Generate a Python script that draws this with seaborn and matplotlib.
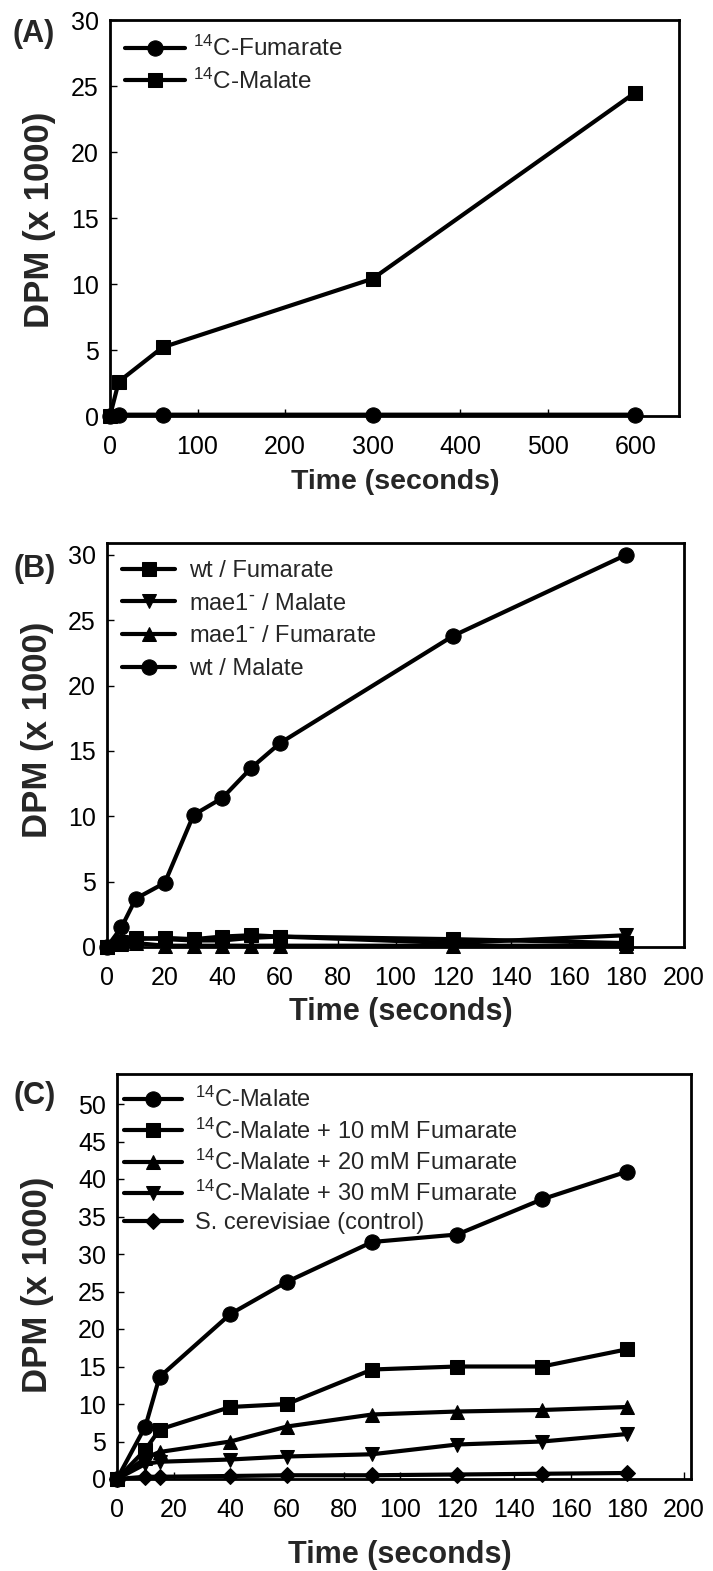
import numpy as np
import pandas as pd
import matplotlib
matplotlib.use("Agg")
import matplotlib.pyplot as plt
import seaborn as sns

# ---------------- data ----------------
# Panel A
a_time = [0, 10, 60, 300, 600]
a_fumarate = [0.0, 0.1, 0.1, 0.1, 0.1]
a_malate = [0.0, 2.6, 5.2, 10.4, 24.5]

# Panel B
b_time = [0, 5, 10, 20, 30, 40, 50, 60, 120, 180]
b_wt_fum = [0.0, 0.3, 0.6, 0.7, 0.6, 0.8, 0.9, 0.8, 0.6, 0.3]
b_mae_mal = [0.0, 0.4, 0.7, 0.6, 0.5, 0.5, 0.7, 0.8, 0.3, 0.9]
b_mae_fum = [0.0, 0.2, 0.3, 0.1, 0.1, 0.1, 0.1, 0.1, 0.1, 0.1]
b_wt_mal = [0.0, 1.5, 3.7, 4.9, 10.1, 11.4, 13.7, 15.6, 23.8, 30.0]

# Panel C
c_time = [0, 10, 15, 40, 60, 90, 120, 150, 180]
c_malate = [0.0, 7.0, 13.6, 22.0, 26.3, 31.6, 32.6, 37.3, 41.0]
c_f10 = [0.0, 3.9, 6.6, 9.6, 10.0, 14.6, 15.0, 15.0, 17.3]
c_f20 = [0.0, 2.8, 3.6, 5.0, 7.0, 8.6, 9.0, 9.2, 9.6]
c_f30 = [0.0, 2.0, 2.3, 2.6, 3.0, 3.3, 4.6, 5.0, 6.0]
c_ctrl = [0.0, 0.3, 0.3, 0.4, 0.5, 0.5, 0.6, 0.7, 0.8]

# ---------------- style ----------------
sns.set_style("white")
plt.rcParams['font.family'] = ['Liberation Sans', 'DejaVu Sans']
plt.rcParams['mathtext.default'] = 'regular'

W, H = 713, 1571
fig = plt.figure(figsize=(W / 100, H / 100), dpi=100)


def frac(l, r, t, b):
    return [l / W, (H - b) / H, (r - l) / W, (b - t) / H]


LW = 3.0
TICK_FS = 18
YLAB_FS = 25
PANEL_FS = 22


def style_axes(ax, box, xlim, ylim, xticks, yticks, ylab_px, xlab_px, xlab_fs):
    l, r, t, b = box
    ax.set_xlim(*xlim)
    ax.set_ylim(*ylim)
    ax.set_xticks(xticks)
    ax.set_yticks(yticks)
    for s in ax.spines.values():
        s.set_visible(True)
        s.set_color('black')
        s.set_linewidth(2.0)
    ax.tick_params(axis='both', direction='in', length=5, width=1,
                   labelsize=TICK_FS, colors='black',
                   bottom=True, left=True, top=False, right=False)
    ax.tick_params(axis='x', pad=14)
    ax.tick_params(axis='y', pad=8)
    ax.set_ylabel("DPM (x 1000)", fontsize=YLAB_FS, fontweight='bold')
    ax.yaxis.label.set_verticalalignment('center')
    ax.yaxis.set_label_coords((ylab_px[0] - l) / (r - l), (b - ylab_px[1]) / (b - t))
    ax.set_xlabel("Time (seconds)", fontsize=xlab_fs, fontweight='bold')
    ax.xaxis.label.set_verticalalignment('center')
    ax.xaxis.set_label_coords((xlab_px[0] - l) / (r - l), (b - xlab_px[1]) / (b - t))


def draw(ax, x, y, marker, label, ms):
    df = pd.DataFrame({"t": x, "v": y})
    sns.lineplot(data=df, x="t", y="v", ax=ax, color='black', lw=LW,
                 marker=marker, markersize=ms, markeredgecolor='black',
                 markerfacecolor='black', label=label, clip_on=False)


def legend(ax, box, first_px, fs, spacing, handlelen, textpad):
    l, r, t, b = box
    leg = ax.legend(loc='upper left', frameon=False, fontsize=fs,
                    handlelength=handlelen, labelspacing=spacing,
                    borderaxespad=0, borderpad=0, handletextpad=textpad,
                    bbox_to_anchor=((first_px[0] - l) / (r - l),
                                    (b - first_px[1]) / (b - t)))
    return leg


# ---------------- Panel A ----------------
boxA = (110, 679, 20, 416)
axA = fig.add_axes(frac(*boxA))
draw(axA, a_time, a_fumarate, 'o', r'$^{14}$C-Fumarate', 11)
draw(axA, a_time, a_malate, 's', r'$^{14}$C-Malate', 9.5)
style_axes(axA, boxA, (0, 650), (0, 30), range(0, 601, 100), range(0, 31, 5),
           (40, 220), (395, 482), 20.5)
legend(axA, boxA, (125, 36), 17.5, 0.3, 2.45, 0.35)
fig.text(34 / W, 1 - 34 / H, "(A)", fontsize=PANEL_FS, fontweight='bold',
         va='center', ha='center')

# ---------------- Panel B ----------------
boxB = (107, 684, 543, 947)
axB = fig.add_axes(frac(*boxB))
draw(axB, b_time, b_wt_fum, 's', 'wt / Fumarate', 9.5)
draw(axB, b_time, b_mae_mal, 'v', r'mae1$^{\text{-}}$ / Malate', 10.5)
draw(axB, b_time, b_mae_fum, '^', r'mae1$^{\text{-}}$ / Fumarate', 10.5)
draw(axB, b_time, b_wt_mal, 'o', 'wt / Malate', 11)
style_axes(axB, boxB, (0, 200), (0, 30.9), range(0, 201, 20), range(0, 31, 5),
           (38, 730), (401, 1012), 22)
legend(axB, boxB, (122, 560), 17, 0.45, 2.25, 0.6)
fig.text(35 / W, 1 - 569 / H, "(B)", fontsize=PANEL_FS, fontweight='bold',
         va='center', ha='center')

# ---------------- Panel C ----------------
boxC = (117, 691, 1074, 1479)
axC = fig.add_axes(frac(*boxC))
draw(axC, c_time, c_malate, 'o', r'$^{14}$C-Malate', 11)
draw(axC, c_time, c_f10, 's', r'$^{14}$C-Malate + 10 mM Fumarate', 9.5)
draw(axC, c_time, c_f20, '^', r'$^{14}$C-Malate + 20 mM Fumarate', 10.5)
draw(axC, c_time, c_f30, 'v', r'$^{14}$C-Malate + 30 mM Fumarate', 10.5)
draw(axC, c_time, c_ctrl, 'D', 'S. cerevisiae (control)', 8)
style_axes(axC, boxC, (0, 202.5), (0, 54), range(0, 201, 20), range(0, 51, 5),
           (38, 1285), (400, 1555), 22)
legend(axC, boxC, (124, 1087), 17, 0.26, 2.45, 0.55)
fig.text(35 / W, 1 - 1096 / H, "(C)", fontsize=PANEL_FS, fontweight='bold',
         va='center', ha='center')

fig.savefig("out.png", dpi=100)
